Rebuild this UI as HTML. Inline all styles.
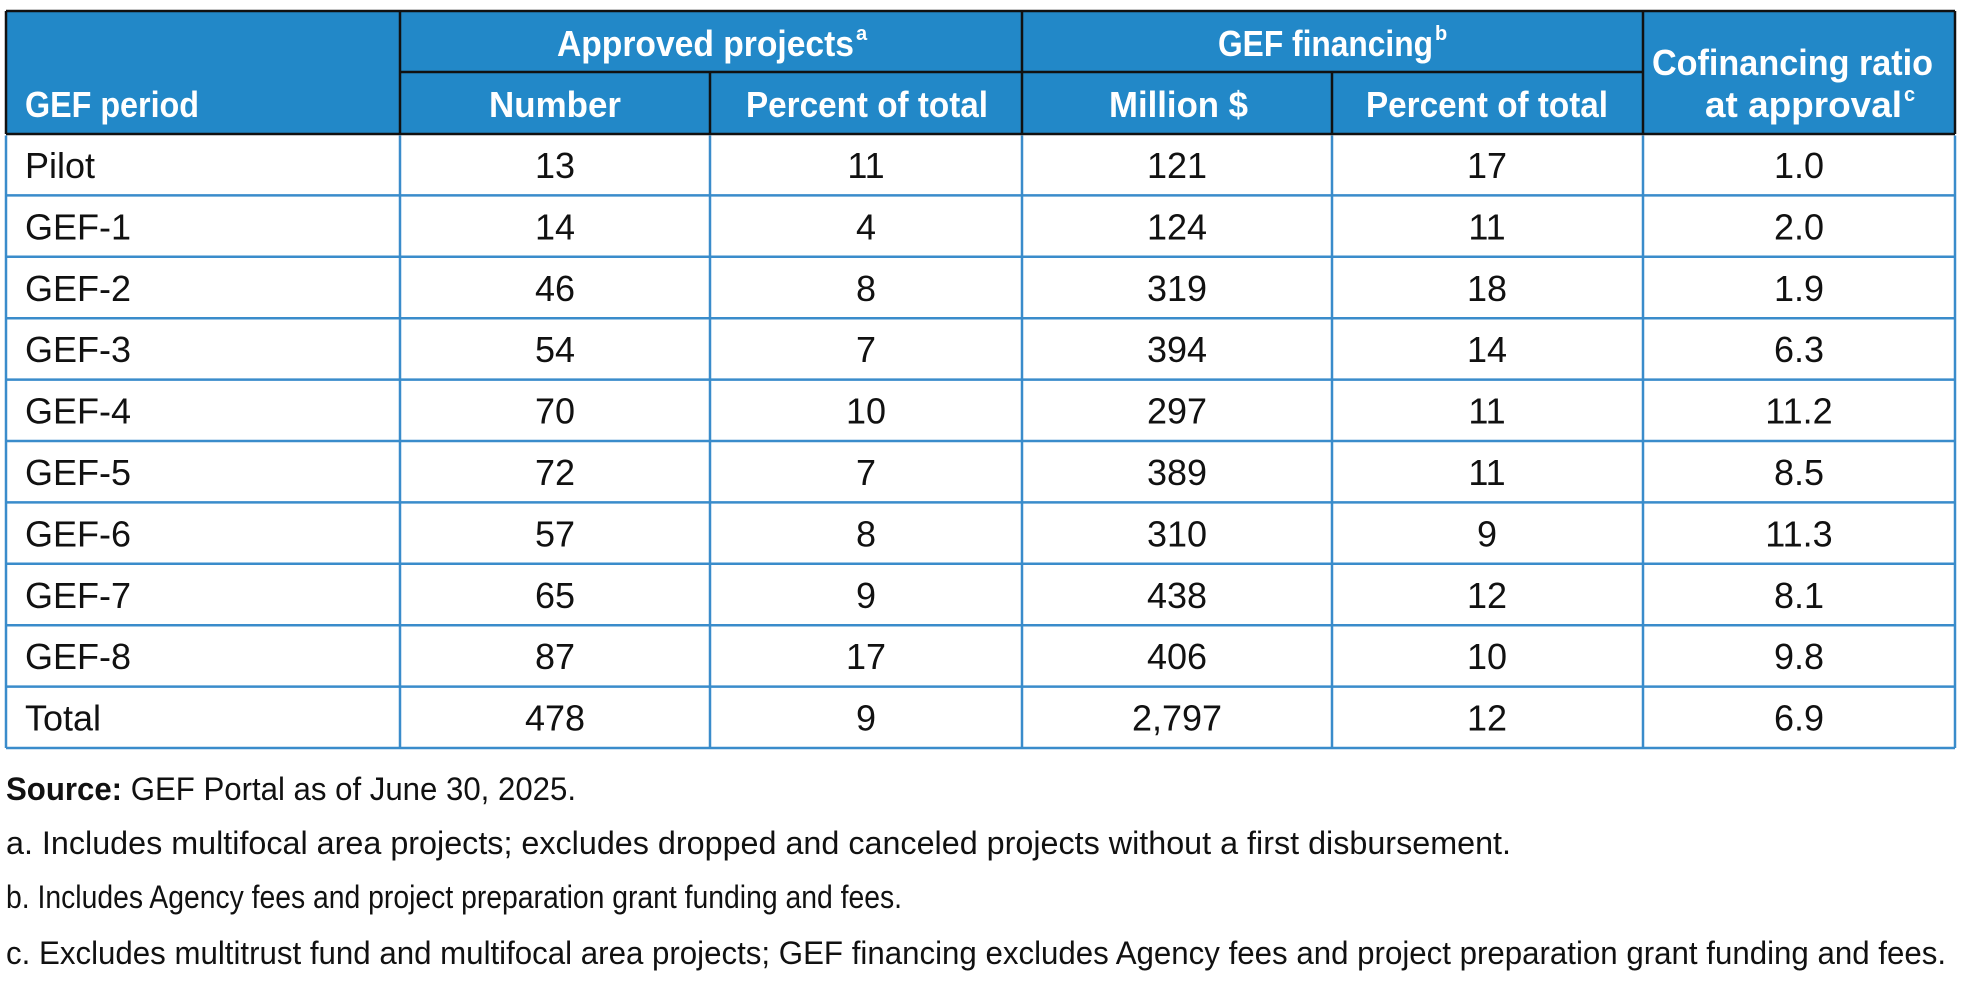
<!DOCTYPE html>
<html><head><meta charset="utf-8"><style>
html,body{margin:0;padding:0;background:#fff;}
svg{display:block;font-family:"Liberation Sans",sans-serif;}
</style></head><body>
<svg id="t" width="1962" height="1002" viewBox="0 0 1962 1002">
<rect x="6" y="11" width="1949" height="123" fill="#2288c8"/>
<g fill="#fff" font-weight="bold" font-size="36">
<text x="25" y="117" textLength="174" lengthAdjust="spacingAndGlyphs">GEF period</text>
<text x="557" y="56" textLength="297" lengthAdjust="spacingAndGlyphs">Approved projects</text>
<text x="856" y="40" font-size="20">a</text>
<text x="1218" y="56" textLength="215" lengthAdjust="spacingAndGlyphs">GEF financing</text>
<text x="1435" y="40" font-size="20">b</text>
<text x="1652" y="75" textLength="281" lengthAdjust="spacingAndGlyphs">Cofinancing ratio</text>
<text x="1705" y="117" textLength="197" lengthAdjust="spacingAndGlyphs">at approval</text>
<text x="1904" y="101" font-size="20">c</text>
<text x="489" y="117" textLength="132" lengthAdjust="spacingAndGlyphs">Number</text>
<text x="746" y="117" textLength="242" lengthAdjust="spacingAndGlyphs">Percent of total</text>
<text x="1109" y="117" textLength="139" lengthAdjust="spacingAndGlyphs">Million $</text>
<text x="1366" y="117" textLength="242" lengthAdjust="spacingAndGlyphs">Percent of total</text>
</g>
<g stroke="#111" stroke-width="2.5" fill="none">
<line x1="6" y1="11" x2="1955" y2="11"/>
<line x1="400" y1="72" x2="1643" y2="72"/>
<line x1="6" y1="134" x2="1955" y2="134"/>
<line x1="6" y1="11" x2="6" y2="134"/>
<line x1="1955" y1="11" x2="1955" y2="134"/>
<line x1="400" y1="11" x2="400" y2="134"/>
<line x1="1022" y1="11" x2="1022" y2="134"/>
<line x1="1643" y1="11" x2="1643" y2="134"/>
<line x1="710" y1="72" x2="710" y2="134"/>
<line x1="1332" y1="72" x2="1332" y2="134"/>
</g>
<g id="body"></g>
<g font-size="32" fill="#111">
<text x="6" y="800" textLength="570" lengthAdjust="spacingAndGlyphs"><tspan font-weight="bold">Source:</tspan> GEF Portal as of June 30, 2025.</text>
<text x="6" y="854" textLength="1505" lengthAdjust="spacingAndGlyphs">a. Includes multifocal area projects; excludes dropped and canceled projects without a first disbursement.</text>
<text x="6" y="908" textLength="896" lengthAdjust="spacingAndGlyphs">b. Includes Agency fees and project preparation grant funding and fees.</text>
<text x="6" y="964" textLength="1940" lengthAdjust="spacingAndGlyphs">c. Excludes multitrust fund and multifocal area projects; GEF financing excludes Agency fees and project preparation grant funding and fees.</text>
</g>
</svg>
<script>
const periods = ["Pilot","GEF-1","GEF-2","GEF-3","GEF-4","GEF-5","GEF-6","GEF-7","GEF-8","Total"];
const projectCounts = ["13","14","46","54","70","72","57","65","87","478"];
const projectPercents = ["11","4","8","7","10","7","8","9","17","9"];
const financingMillions = ["121","124","319","394","297","389","310","438","406","2,797"];
const financingPercents = ["17","11","18","14","11","11","9","12","10","12"];
const cofinancingRatios = ["1.0","2.0","1.9","6.3","11.2","8.5","11.3","8.1","9.8","6.9"];

const NS = "http://www.w3.org/2000/svg";
const body = document.getElementById("body");
const top0 = 134, rowH = 61.4;
const colCenters = [555, 866, 1177, 1487, 1799];
const cols = [projectCounts, projectPercents, financingMillions, financingPercents, cofinancingRatios];
const colNames = ["number","percent-projects","million","percent-financing","cofinancing-ratio"];
function rowY(i){ return top0 + i*rowH; }
for (let i = 0; i < periods.length; i++) {
  const y = rowY(i);
  const g = document.createElementNS(NS, "g");
  
  
  const t = document.createElementNS(NS, "text");
  t.setAttribute("x", 25); t.setAttribute("y", y + 44);
  t.setAttribute("font-size", "36"); t.setAttribute("fill", "#111");
  t.textContent = periods[i];
  
  
  g.appendChild(t);
  for (let c = 0; c < cols.length; c++) {
    const v = document.createElementNS(NS, "text");
    v.setAttribute("x", colCenters[c]); v.setAttribute("y", y + 44);
    v.setAttribute("font-size", "36"); v.setAttribute("fill", "#111");
    v.setAttribute("text-anchor", "middle");
    v.textContent = cols[c][i];
    
    
    g.appendChild(v);
  }
  body.appendChild(g);
}
const n = periods.length;
const bottom = rowY(n);
function ln(x1,y1,x2,y2){
  const l = document.createElementNS(NS, "line");
  l.setAttribute("x1",x1); l.setAttribute("y1",y1); l.setAttribute("x2",x2); l.setAttribute("y2",y2);
  l.setAttribute("stroke","#3a8ccb"); l.setAttribute("stroke-width","2.5");
  
  
  body.appendChild(l);
}
for (let i = 1; i <= n; i++) ln(6, rowY(i), 1955, rowY(i));
[6,400,710,1022,1332,1643,1955].forEach(x => ln(x, top0+1.5, x, bottom));
</script>
</body></html>
